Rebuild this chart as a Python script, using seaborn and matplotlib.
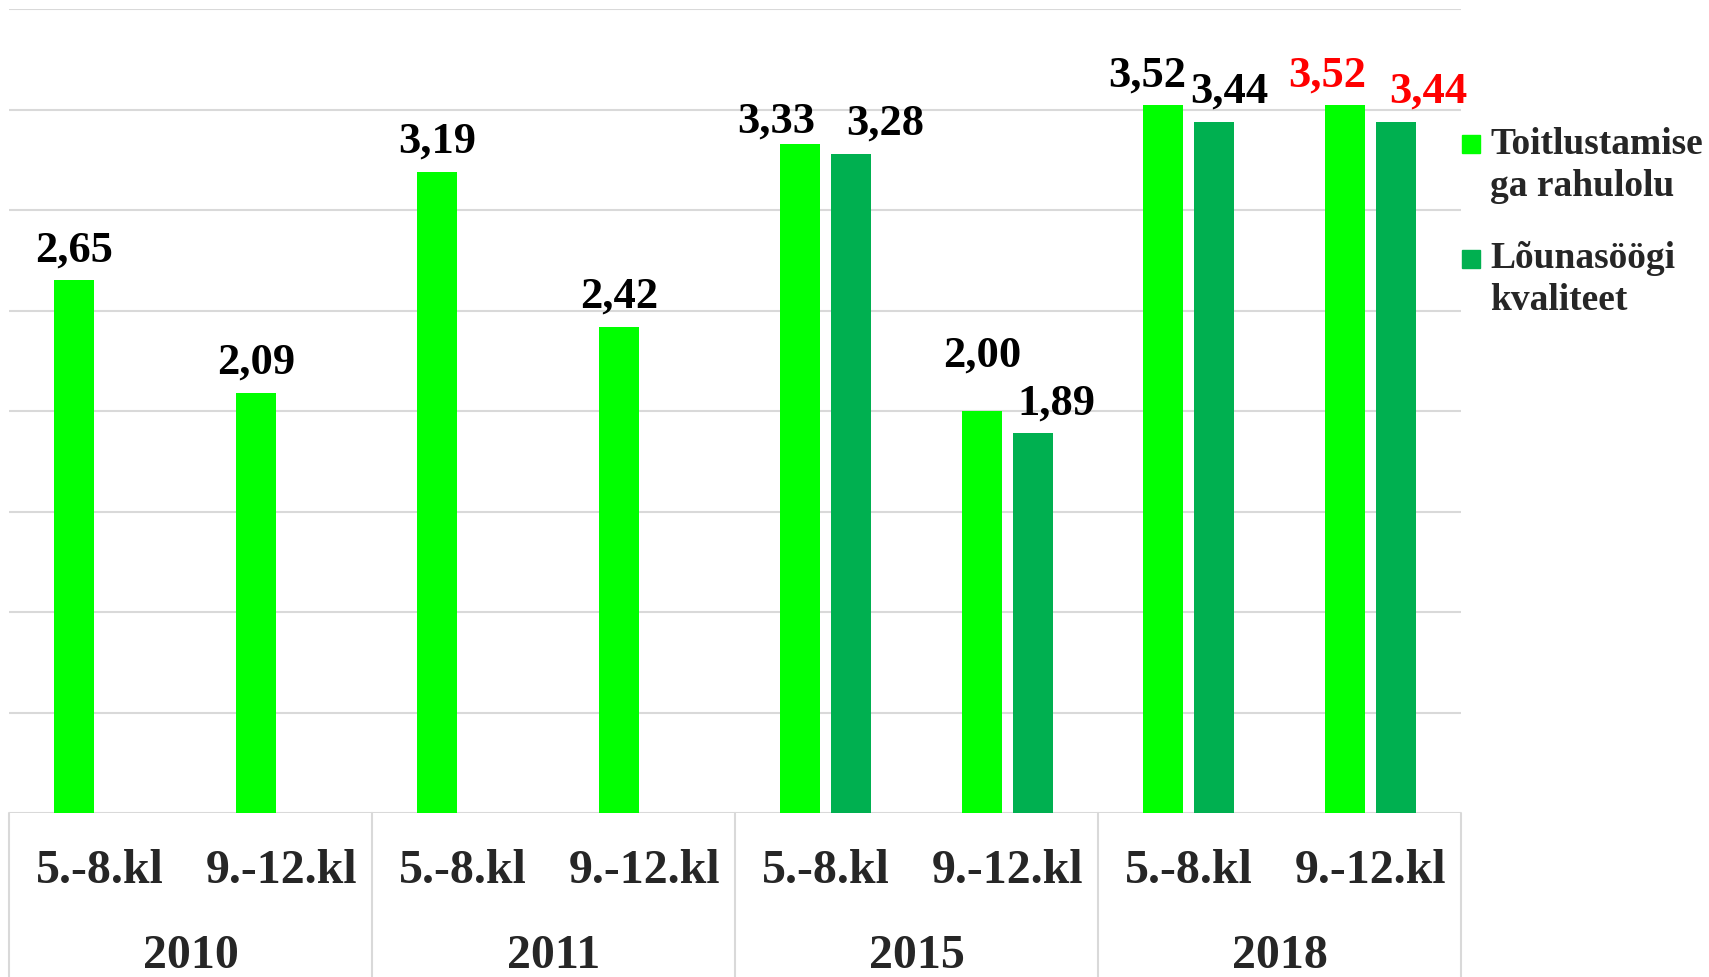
import numpy as np
import pandas as pd
import matplotlib
matplotlib.use("Agg")
import matplotlib.pyplot as plt
import matplotlib.transforms as mtransforms
from matplotlib.patches import Rectangle
import seaborn as sns

# data
years = ["2010", "2010", "2011", "2011", "2015", "2015", "2018", "2018"]
classes = ["5.-8.kl", "9.-12.kl", "5.-8.kl", "9.-12.kl", "5.-8.kl", "9.-12.kl", "5.-8.kl", "9.-12.kl"]
rahulolu = [2.65, 2.09, 3.19, 2.42, 3.33, 2.00, 3.52, 3.52]
kvaliteet = [np.nan, np.nan, np.nan, np.nan, 3.28, 1.89, 3.44, 3.44]
series_names = ["Toitlustamisega rahulolu", "Lõunasöögi kvaliteet"]
legend_lines = [["Toitlustamise", "ga rahulolu"], ["Lõunasöögi", "kvaliteet"]]
year_labels = ["2010", "2011", "2015", "2018"]

colors = {"Toitlustamisega rahulolu": "#00FF00", "Lõunasöögi kvaliteet": "#00B050"}
grid_color = "#D9D9D9"

# label nudges (pixels) where Excel moved labels apart: category -> (series1 dx, series2 dx)
label_dx = {4: (-24, 34), 5: (0, 24), 6: (-16, 15), 7: (-18, 33)}
label_dy = {(0, 5): 25, (0, 4): -8}

keys = [f"{y} {c}" for y, c in zip(years, classes)]
wide = pd.DataFrame({"key": keys, series_names[0]: rahulolu, series_names[1]: kvaliteet})
long_df = wide.melt(id_vars="key", var_name="series", value_name="value").dropna()

sns.set_theme(style="white")
plt.rcParams["font.family"] = ["Liberation Serif", "DejaVu Serif"]
plt.rcParams["font.weight"] = "bold"

W, H = 1709, 977
fig = plt.figure(figsize=(W / 100, H / 100), dpi=100)
ax_l, ax_r, ax_t, ax_b = 9, 1461, 9, 813
ax = fig.add_axes([ax_l / W, (H - ax_b) / H, (ax_r - ax_l) / W, (ax_b - ax_t) / H])

sns.barplot(
    data=long_df, x="key", y="value", hue="series", order=keys, hue_order=series_names,
    palette=colors, width=0.56, gap=0.21, saturation=1, errorbar=None,
    linewidth=0, legend=False, ax=ax
)

ax.set_xlim(-0.5, len(keys) - 0.5)
ax.set_ylim(0, 4)
ax.set_yticks(np.arange(0, 4.01, 0.5))
ax.yaxis.grid(True, color=grid_color, linewidth=1.5)
ax.set_axisbelow(True)
ax.set_yticklabels([])
ax.tick_params(axis="both", length=0)
ax.set_xticks([])
ax.set_xlabel("")
ax.set_ylabel("")
for s in ax.spines.values():
    s.set_visible(False)

# two-level category axis
trans = mtransforms.blended_transform_factory(ax.transData, ax.transAxes)
bottom = -(H - ax_b) / (ax_b - ax_t)
for xb in np.arange(-0.5, len(keys), 2):
    ax.plot([xb, xb], [0, bottom], color=grid_color, linewidth=1.5, transform=trans, clip_on=False)
for i, c in enumerate(classes):
    ax.text(i, -0.072, c, transform=trans, ha="center", va="center", fontsize=34.5, fontweight="bold")
for j, y in enumerate(year_labels):
    ax.text(2 * j + 0.5, -0.178, y, transform=trans, ha="center", va="center", fontsize=34.5, fontweight="bold")

# value labels
for s_idx, cont in enumerate(ax.containers):
    for bar in cont:
        h = bar.get_height()
        if np.isnan(h):
            continue
        xc = bar.get_x() + bar.get_width() / 2
        cat = int(round(xc))
        dx = label_dx.get(cat, (0, 0))[s_idx] * 0.72
        dy = (19 + label_dy.get((s_idx, cat), 0)) * 0.72
        color = "#FF0000" if cat == len(keys) - 1 else "black"
        ax.annotate(f"{h:.2f}".replace(".", ","), xy=(xc, h), xytext=(dx, dy),
                    textcoords="offset points", ha="center", va="baseline",
                    fontsize=32, fontweight="bold", color=color)

# legend, marker aligned with first line
leg_y = [144, 259]
for k, name in enumerate(series_names):
    yc = leg_y[k]
    fig.patches.append(Rectangle((1462 / W, (H - yc - 9) / H), 18 / W, 18 / H,
                                 transform=fig.transFigure, color=colors[name], figure=fig))
    for ln, line in enumerate(legend_lines[k]):
        fig.text(1490 / W, (H - yc - ln * 42) / H, line, ha="left", va="center",
                 fontsize=27, fontweight="bold")

fig.savefig("out.png", dpi=100)
